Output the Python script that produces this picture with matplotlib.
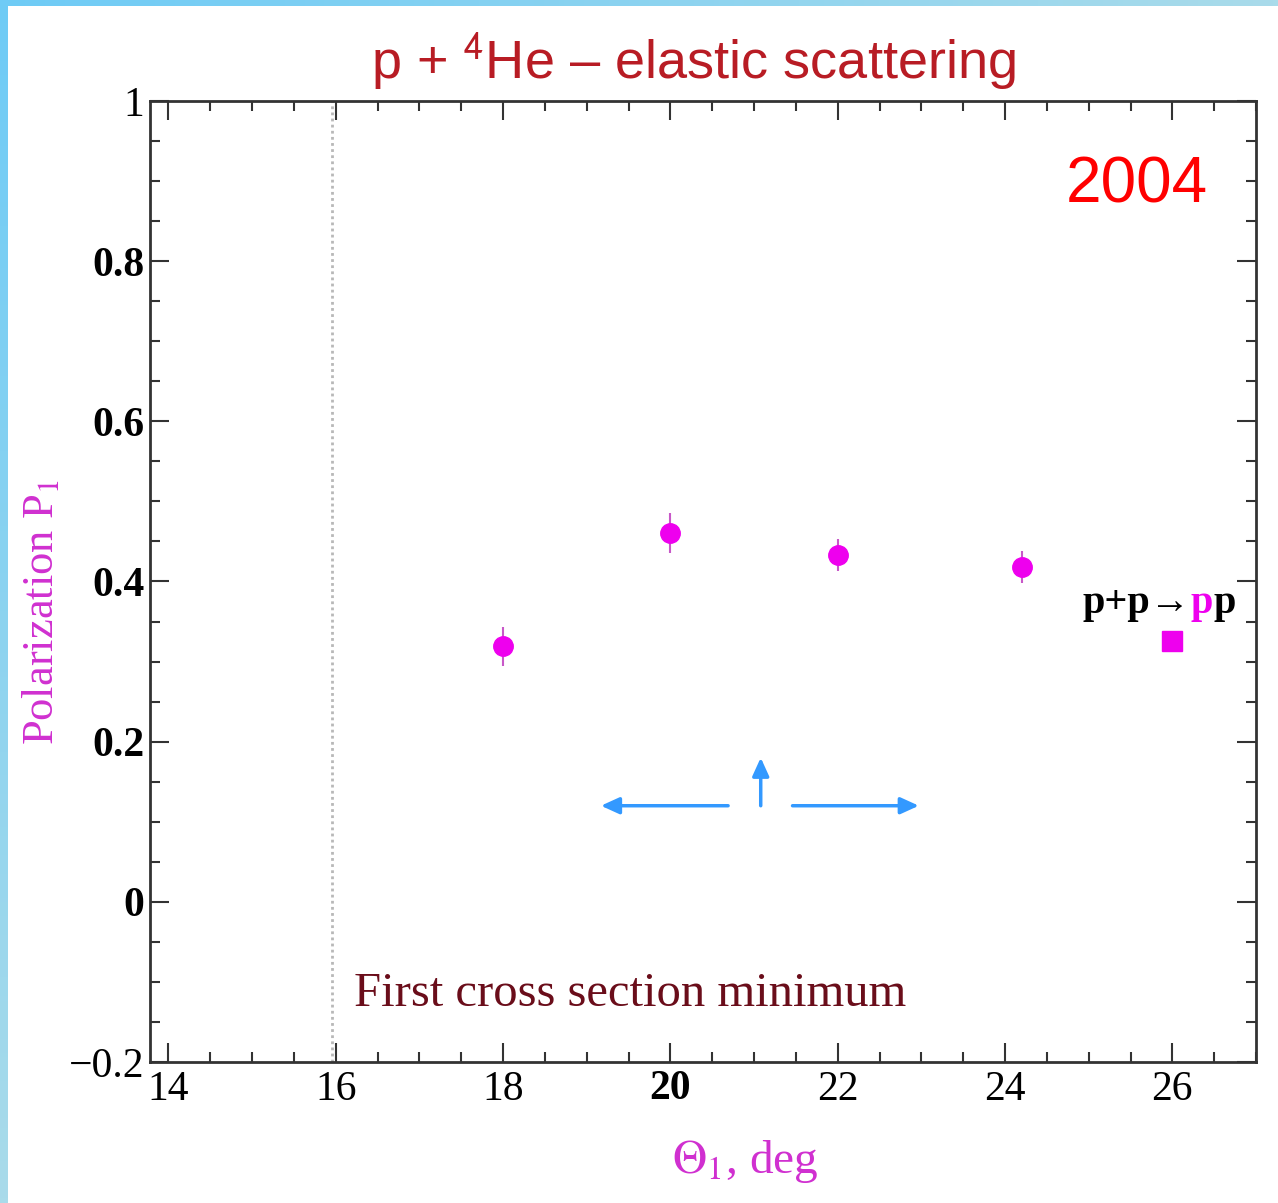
import numpy as np
import matplotlib
matplotlib.use('agg')
import matplotlib.pyplot as plt
from matplotlib.ticker import MultipleLocator

plt.rcParams['mathtext.fontset'] = 'stix'

# polarization data, p + 4He elastic scattering
theta = [18.0, 20.0, 22.0, 24.2]
pol = [0.319, 0.460, 0.433, 0.418]
pol_err = [0.024, 0.025, 0.020, 0.020]

# p + p -> pp reference point
theta_pp = [26.0]
pol_pp = [0.326]

x_ticks = [14, 16, 18, 20, 22, 24, 26]
y_ticks = [-0.2, 0, 0.2, 0.4, 0.6, 0.8, 1]
y_tick_labels = ['\u22120.2', '0', '0.2', '0.4', '0.6', '0.8', '1']
bold_y = ['0', '0.2', '0.4', '0.6', '0.8']
bold_x = ['20']
cs_min = 15.95

fig = plt.figure(figsize=(12.78, 12.03), dpi=100)

# slide frame: light blue bars along left and top edges
frame_cmap = matplotlib.colors.LinearSegmentedColormap.from_list('frame', ['#6ecbf6', '#a9dbea'])
bar_top = fig.add_axes([0, 1 - 6 / 1203, 1, 6 / 1203])
bar_top.imshow(np.linspace(0, 1, 256).reshape(1, -1), aspect='auto', cmap=frame_cmap)
bar_top.axis('off')
bar_left = fig.add_axes([0, 0, 8 / 1278, 1])
bar_left.imshow(np.linspace(0, 1, 256).reshape(-1, 1), aspect='auto', cmap=frame_cmap)
bar_left.axis('off')

ax = fig.add_axes([150 / 1278, 141 / 1203, 1106 / 1278, 961 / 1203])
ax.set_xlim(13.78, 27.0)
ax.set_ylim(-0.2, 1.0)

magenta = '#ee00ee'
ax.errorbar(theta, pol, yerr=pol_err, fmt='o', color=magenta, ms=14,
            ecolor='#c858c8', elinewidth=1.5, capsize=0, zorder=3)
ax.plot(theta_pp, pol_pp, 's', color=magenta, ms=14, zorder=3)

ax.axvline(cs_min, color='#b8b8b8', lw=2, ls=(0, (1, 1.2)), zorder=1)

serif = 'Liberation Serif'
ax.set_xticks(x_ticks)
ax.set_xticklabels([str(t) for t in x_ticks], fontfamily=serif, fontsize=30)
ax.set_yticks(y_ticks)
ax.set_yticklabels(y_tick_labels, fontfamily=serif, fontsize=30)
for lab in ax.get_yticklabels():
    if lab.get_text() in bold_y:
        lab.set_fontweight('bold')
for lab in ax.get_xticklabels():
    if lab.get_text() in bold_x:
        lab.set_fontweight('bold')

ax.xaxis.set_minor_locator(MultipleLocator(0.5))
ax.yaxis.set_minor_locator(MultipleLocator(0.05))
ax.tick_params(which='both', direction='in', top=True, right=True,
               color='#333333', width=1.5)
ax.tick_params(which='major', length=14)
ax.tick_params(which='minor', length=7)
ax.tick_params(axis='x', which='major', pad=6)
ax.tick_params(axis='y', which='major', pad=4)
for sp in ax.spines.values():
    sp.set_linewidth(2)
    sp.set_color('#333333')

ax.set_xlabel(r'$\Theta_1$, deg', fontfamily=serif, fontsize=34, color='#d030d0')
ax.xaxis.set_label_coords(0.538, -0.079)
ax.set_ylabel('Polarization P$_1$', fontfamily=serif, fontsize=32, color='#d030d0')
ax.yaxis.set_label_coords(-0.098, 0.468)
ax.yaxis.label.set_va('center')

fig.text(693 / 1278, 1 - 62 / 1203, 'p + $^{\\mathsf{4}}$He \u2013 elastic scattering',
         fontfamily='Liberation Sans', fontsize=39, color='#b81c24',
         ha='center', va='center')

ax.text(26.43, 0.895, '2004', fontfamily='Liberation Sans', fontsize=46,
        color='#ff0000', ha='right', va='center')

ax.text(16.22, -0.13, 'First cross section minimum', fontfamily=serif,
        fontsize=35, color='#6a0d1a', ha='left', va='baseline')

# p + p -> pp label, second p highlighted
t1 = ax.text(24.93, 0.361, 'p+p\u2192', fontfamily=serif, fontsize=29,
             fontweight='bold', color='black', ha='left', va='baseline')
t2 = ax.annotate('p', xy=(1, 0), xycoords=t1, fontfamily=serif, fontsize=29,
                 fontweight='bold', color=magenta, ha='left', va='bottom')
ax.annotate('p', xy=(1, 0), xycoords=t2, fontfamily=serif, fontsize=29,
            fontweight='bold', color='black', ha='left', va='bottom')

# blue arrows
arrow_c = '#3399ff'
ap = dict(arrowstyle='-|>,head_length=1.1,head_width=0.5', color=arrow_c, lw=2.5,
          shrinkA=0, shrinkB=0)
ax.annotate('', xy=(19.17, 0.12), xytext=(20.69, 0.12), arrowprops=ap)
ax.annotate('', xy=(22.97, 0.12), xytext=(21.46, 0.12), arrowprops=ap)
ax.annotate('', xy=(21.08, 0.18), xytext=(21.08, 0.12), arrowprops=ap)

fig.savefig('out.png', dpi=100)
